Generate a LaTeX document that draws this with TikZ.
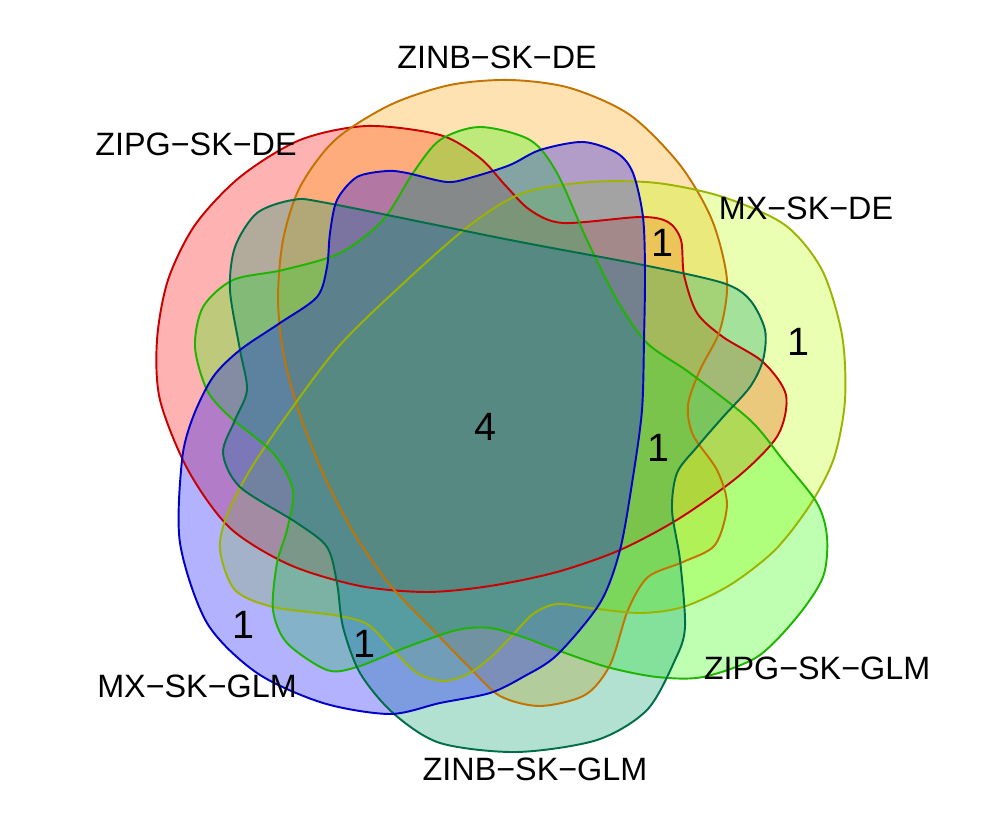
\documentclass[tikz,border=0pt]{standalone}
\usepackage{fontspec}
\setmainfont{Liberation Sans}

\definecolor{redA}{RGB}{255,0,0}
\definecolor{redAline}{RGB}{200,0,0}
\definecolor{orangeB}{RGB}{255,160,0}
\definecolor{orangeBline}{RGB}{195,115,0}
\definecolor{yellowC}{RGB}{188,255,0}
\definecolor{yellowCline}{RGB}{155,180,0}
\definecolor{greenD}{RGB}{40,255,0}
\definecolor{greenDline}{RGB}{30,180,0}
\definecolor{tealE}{RGB}{0,155,105}
\definecolor{tealEline}{RGB}{0,110,70}
\definecolor{blueF}{RGB}{0,0,255}
\definecolor{blueFline}{RGB}{0,0,200}

\begin{document}
\begin{tikzpicture}[x=0.02cm, y=-0.02cm,
    setfill/.style={fill opacity=0.3},
    setline/.style={line width=1.1pt},
    setlabel/.style={font=\fontsize{18.4}{22}\selectfont},
    count/.style={font=\fontsize{22.5}{26}\selectfont}]
    \useasboundingbox (0,0) rectangle (997,830);

    % ZIPG-SK-DE
    \path[setfill, fill=redA, save path=\zipgdepath] plot[smooth cycle] coordinates{
        (160,400) (157,340) (168,280) (195,225) (240,177) (300,140) (367,126)
        (440,135) (480,158) (505,185) (530,210) (563,223) (640,217) (668,222)
        (681,240) (684,275) (697,313) (723,337) (763,362) (786,395) (778,435)
        (740,475) (680,518) (620,550) (557,572) (490,586) (427,592) (360,586)
        (290,565) (230,528) (188,470)};

    % ZINB-SK-DE
    \path[setfill, fill=orangeB, save path=\zinbdepath] plot[smooth cycle] coordinates{
        (510,80) (570,88) (630,115) (680,165) (712,220) (727,280) (720,330)
        (700,370) (688,405) (693,435) (717,470) (727,505) (715,545) (683,562)
        (648,577) (628,610) (610,665) (585,695) (540,706) (500,696) (470,668)
        (430,627) (390,585) (355,535) (325,478) (300,415) (284,357) (278,300)
        (283,240) (300,187) (335,140) (390,105) (450,85)};

    % MX-SK-DE
    \path[setfill, fill=yellowC, save path=\mxdepath] plot[smooth cycle] coordinates{
        (523,193) (590,182) (657,183) (723,197) (785,225) (822,270) (842,335)
        (845,400) (834,458) (810,505) (775,550) (730,585) (683,607) (640,613)
        (590,608) (557,604) (533,614) (510,638) (490,658) (468,674) (443,681)
        (417,673) (393,650) (367,624) (333,615) (273,607) (235,590) (220,550)
        (227,515) (250,470) (287,415) (340,345) (407,280) (470,225)};

    % ZIPG-SK-GLM
    \path[setfill, fill=greenD, save path=\zipgglmpath] plot[smooth cycle] coordinates{
        (480,127) (530,140) (557,173) (587,240) (617,300) (647,343) (690,373)
        (750,420) (783,460) (817,503) (827,537) (823,577) (797,617) (757,657)
        (703,677) (657,677) (607,667) (557,650) (523,637) (490,628) (457,630)
        (407,647) (357,667) (327,670) (287,643) (273,610) (277,563) (287,530)
        (293,490) (273,453) (230,417) (207,390) (195,347) (203,307) (233,280)
        (283,270) (340,253) (383,220) (413,173) (440,140)};

    % ZINB-SK-GLM
    \path[setfill, fill=tealE, save path=\zinbglmpath] plot[smooth cycle] coordinates{
        (293,200) (327,203) (510,240) (643,265) (723,283) (750,300) (765,330)
        (763,360) (750,387) (723,417) (697,447) (677,473) (672,510) (680,560)
        (685,627) (675,660) (647,710) (597,740) (517,752) (440,743) (393,713)
        (360,673) (343,627) (337,583) (327,547) (297,523) (240,487) (223,453)
        (235,420) (247,390) (240,350) (230,290) (235,247) (257,213)};

    % MX-SK-GLM
    \path[setfill, fill=blueF, save path=\mxglmpath] plot[smooth cycle] coordinates{
        (583,142) (617,153) (633,173) (643,217) (645,273) (644,340) (642,410)
        (633,477) (620,550) (600,603) (557,655) (523,677) (490,693) (440,703)
        (390,714) (323,703) (257,673) (207,623) (180,543) (182,460) (193,417)
        (213,377) (240,350) (280,323) (317,297) (327,267) (330,233) (337,200)
        (357,177) (387,171) (407,173) (447,182) (473,177) (510,165) (540,150)};

    % outlines on top
    \draw[setline, draw=redAline, use path=\zipgdepath];
    \draw[setline, draw=orangeBline, use path=\zinbdepath];
    \draw[setline, draw=yellowCline, use path=\mxdepath];
    \draw[setline, draw=greenDline, use path=\zipgglmpath];
    \draw[setline, draw=tealEline, use path=\zinbglmpath];
    \draw[setline, draw=blueFline, use path=\mxglmpath];

    \node[setlabel] (zipgde) at (196,144) {ZIPG−SK−DE};
    \node[setlabel] (zinbde) at (497,57) {ZINB−SK−DE};
    \node[setlabel] (mxde) at (806,208) {MX−SK−DE};
    \node[setlabel] (zipgglm) at (817,668) {ZIPG−SK−GLM};
    \node[setlabel] (zinbglm) at (535,769) {ZINB−SK−GLM};
    \node[setlabel] (mxglm) at (197,686) {MX−SK−GLM};

    \node[count] (all) at (485,427) {4};
    \node[count] (n1) at (662,243) {1};
    \node[count] (n2) at (798,342) {1};
    \node[count] (n3) at (658,448) {1};
    \node[count] (n4) at (243,625) {1};
    \node[count] (n5) at (364,644) {1};
\end{tikzpicture}
\end{document}
